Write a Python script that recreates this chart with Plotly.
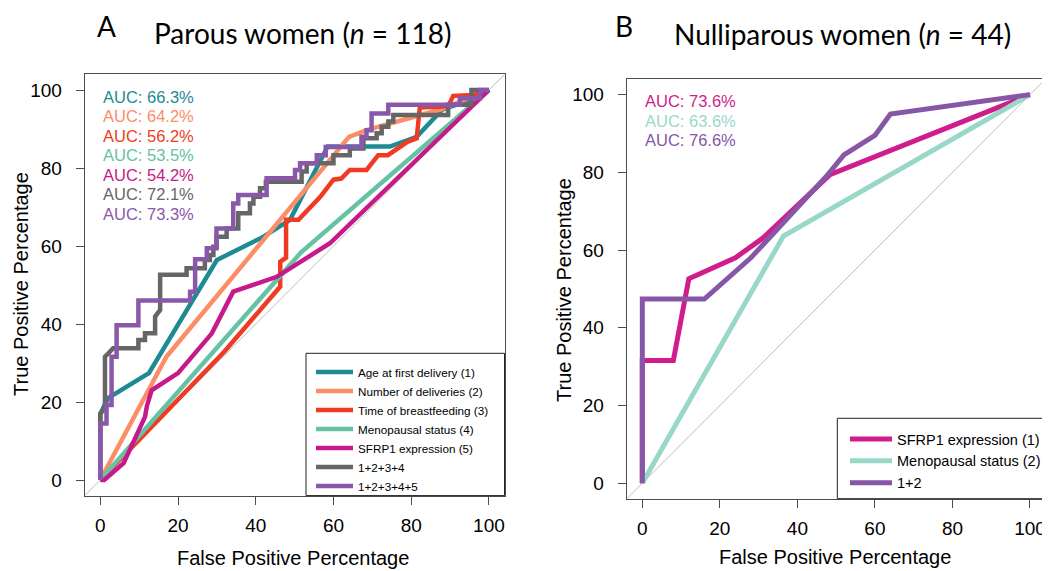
import plotly.graph_objects as go

# page body has an 8px margin: the figure is drawn 8px in from the window's top-left corner
OFF = 8
W, H = 1050 - OFF, 571 - OFF

# ---------------- Panel A: Parous women (FPR %, TPR %) ----------------
a_names = ["Age at first delivery (1)", "Number of deliveries (2)", "Time of breastfeeding (3)",
           "Menopausal status (4)", "SFRP1 expression (5)", "1+2+3+4", "1+2+3+4+5"]
a_colors = ["#1d8a94", "#fb8d67", "#ef3b23", "#66c2a4", "#c7198a", "#666666", "#8a58aa"]
a_auc = ["66.3%", "64.2%", "56.2%", "53.5%", "54.2%", "72.1%", "73.3%"]

a_age = [(0, 0), (0, 17), (2, 21), (12.5, 27.4), (30, 56.4), (42, 62.4), (48.8, 66.7), (58.5, 85.5),
         (74.5, 85.5), (81.4, 88), (88, 95), (95, 97.4), (100, 100)]
a_deliveries = [(0, 0), (17, 31.6), (64, 88), (68.5, 89.7), (87.5, 95), (97.5, 99), (100, 100)]
a_breastfeeding = [(0, 0), (32, 33), (46.3, 49.6), (46.3, 56), (47.8, 57), (47.8, 66.7), (51, 66.7),
                   (56.6, 72.6), (60, 77), (62, 77.3), (64.2, 79.5), (68.5, 79.5), (71.5, 83.3),
                   (74, 83.3), (79, 86.7), (81.4, 87.6), (82.2, 95.5), (89.5, 95.8), (90.8, 98.5),
                   (96, 98.7), (100, 100)]
a_menopause = [(0, 0), (51.6, 58.3), (100, 100)]
a_sfrp1 = [(0, 0), (1, 0), (6, 4.3), (11.5, 16.2), (12, 19), (13.2, 23), (20, 27.4), (28.7, 37.6),
           (34.2, 48.3), (45.4, 52.1), (59.1, 60.7), (100, 100)]
a_combo4 = [(0, 0), (0, 17), (1.2, 18.4), (1.2, 31.6), (2.1, 32.5), (3.3, 33.8), (9.8, 33.8), (9.8, 35.9),
            (11.5, 35.9), (11.5, 37.6), (14.1, 37.6), (14.1, 41.9), (15.4, 43.6), (15.4, 52.6),
            (22.2, 52.6), (22.2, 54.3), (26.9, 54.3), (26.9, 56.4), (28.2, 56.4), (28.2, 57.7),
            (29.1, 57.7), (29.1, 59.8), (29.9, 59.8), (29.9, 62.4), (32.5, 62.4), (32.5, 64.5),
            (35.5, 64.5), (35.5, 68.4), (38.5, 68.4), (38.5, 70.9), (39.4, 70.9), (39.4, 72.6),
            (41.1, 72.6), (41.1, 74.8), (42.6, 74.8), (42.6, 76.5), (51.8, 76.5), (51.8, 79.1),
            (53.1, 79.1), (53.1, 81.2), (60, 81.2), (60, 83.3), (64.2, 83.3), (64.2, 85),
            (67.7, 85), (67.7, 87.6), (71.1, 87.6), (71.1, 88.9), (72.4, 88.9), (72.4, 90.6),
            (74.1, 90.6), (74.1, 91.9), (75.4, 91.9), (75.4, 93.6), (89.5, 93.6), (89.5, 96.2),
            (95.5, 96.2), (95.5, 100), (100, 100)]
a_combo5 = [(0, 0), (0, 14.5), (1.6, 14.5), (1.6, 19.2), (2.9, 19.2), (2.9, 31.6), (4.2, 31.6),
            (4.2, 39.7), (9.8, 39.7), (9.8, 46), (23.1, 46), (23.1, 48.3), (24.4, 48.3), (24.4, 56.6),
            (27.4, 56.6), (27.4, 59.4), (29.9, 59.4), (29.9, 64.5), (34.2, 64.5), (34.2, 70.9),
            (35.5, 70.9), (35.5, 73.1), (42.8, 73.1), (42.8, 77.4), (50.1, 77.4), (50.1, 79.5),
            (51.4, 79.5), (51.4, 81.2), (55.7, 81.2), (55.7, 83.3), (58, 83.3), (58, 85.4),
            (67.2, 85.4), (67.2, 88), (68.5, 88), (68.5, 89.7), (69.8, 89.7), (69.8, 94),
            (74.1, 94), (74.1, 96.2), (92.5, 96.2), (92.5, 97.9), (97.7, 97.9), (97.7, 100), (100, 100)]
a_curves = [a_age, a_deliveries, a_breastfeeding, a_menopause, a_sfrp1, a_combo4, a_combo5]

# ---------------- Panel B: Nulliparous women ----------------
b_names = ["SFRP1 expression (1)", "Menopausal status (2)", "1+2"]
b_colors = ["#cf1d8b", "#99d8c9", "#8856a7"]
b_auc = ["73.6%", "63.6%", "76.6%"]
b_sfrp1 = [(0, 0), (0, 31.6), (8, 31.6), (12, 52.6), (24, 58), (31, 63), (48.4, 79.4), (100, 100)]
b_menopause = [(0, 0), (36.4, 63.6), (100, 100)]
b_combo = [(0, 0), (0, 47.4), (16, 47.4), (28, 58), (47.5, 79), (52, 84.5), (60, 89.5), (64, 95), (100, 100)]
b_curves = [b_sfrp1, b_menopause, b_combo]

ticks = [0, 20, 40, 60, 80, 100]

FONT = "Liberation Sans"
TFONT = "Lato"
AXC = "#4d4d4d"


def fx(px):
    return (px - OFF) / W


def fy(py):
    return 1 - (py - OFF) / H


fig = go.Figure()

# chance diagonals
for xa, ya in (("x", "y"), ("x2", "y2")):
    fig.add_trace(go.Scatter(x=[-4, 104], y=[-4, 104], mode="lines", xaxis=xa, yaxis=ya,
                             line=dict(color="#bdbdbd", width=1), showlegend=False, hoverinfo="skip"))

for name, col, pts in zip(a_names, a_colors, a_curves):
    fig.add_trace(go.Scatter(x=[p[0] for p in pts], y=[p[1] for p in pts], mode="lines", name=name,
                             xaxis="x", yaxis="y", legend="legend",
                             line=dict(color=col, width=4.5)))

for name, col, pts in zip(b_names, b_colors, b_curves):
    fig.add_trace(go.Scatter(x=[p[0] for p in pts], y=[p[1] for p in pts], mode="lines", name=name,
                             xaxis="x2", yaxis="y2", legend="legend2",
                             line=dict(color=col, width=5)))

axis_style = dict(range=[-4, 104], tickvals=ticks, ticks="outside", ticklen=8, tickwidth=1,
                  tickcolor=AXC, showline=True, mirror=True, linecolor=AXC, linewidth=1.2,
                  showgrid=False, zeroline=False,
                  tickfont=dict(family=FONT, size=19, color="black"))
x_style = dict(axis_style, ticklabelstandoff=4)
y_style = dict(axis_style, ticklabelstandoff=10)

annotations = []
# AUC labels
for i, (txt, col) in enumerate(zip(a_auc, a_colors)):
    annotations.append(dict(x=0.3, y=98.3 - 5 * i, xref="x", yref="y", text="AUC: " + txt,
                            showarrow=False, xanchor="left", yanchor="middle",
                            font=dict(family=FONT, size=16.5, color=col)))
for i, (txt, col) in enumerate(zip(b_auc, b_colors)):
    annotations.append(dict(x=0.3, y=98.3 - 5 * i, xref="x2", yref="y2", text="AUC: " + txt,
                            showarrow=False, xanchor="left", yanchor="middle",
                            font=dict(family=FONT, size=16.5, color=col)))

# axis titles
for cx, cy in ((293, 558), (835, 557)):
    annotations.append(dict(x=fx(cx), y=fy(cy), xref="paper", yref="paper", text="False Positive Percentage",
                            showarrow=False, xanchor="center", yanchor="middle",
                            font=dict(family=FONT, size=20, color="black")))
for cx, cy in ((21, 284), (564, 290)):
    annotations.append(dict(x=fx(cx), y=fy(cy), xref="paper", yref="paper", text="True Positive Percentage",
                            showarrow=False, xanchor="center", yanchor="middle", textangle=-90,
                            font=dict(family=FONT, size=20, color="black")))

# panel titles
annotations.append(dict(x=fx(106), y=fy(26), xref="paper", yref="paper", text="A", showarrow=False,
                        xanchor="center", yanchor="middle", font=dict(family=TFONT, size=28, color="black")))
annotations.append(dict(x=fx(623.5), y=fy(26), xref="paper", yref="paper", text="B", showarrow=False,
                        xanchor="center", yanchor="middle", font=dict(family=TFONT, size=28, color="black")))
annotations.append(dict(x=fx(152), y=fy(33), xref="paper", yref="paper",
                        text="Parous women (<i>n</i> = 118)", showarrow=False,
                        xanchor="left", yanchor="middle", font=dict(family=TFONT, size=28, color="black")))
annotations.append(dict(x=fx(672), y=fy(34), xref="paper", yref="paper",
                        text="Nulliparous women (<i>n</i> = 44)", showarrow=False,
                        xanchor="left", yanchor="middle", font=dict(family=TFONT, size=28, color="black")))

shapes = [
    dict(type="rect", xref="paper", yref="paper", x0=fx(306), x1=fx(504.5), y0=fy(495.6), y1=fy(353.3),
         line=dict(color="#222222", width=1)),
    dict(type="rect", xref="paper", yref="paper", x0=fx(837.3), x1=fx(1045.5), y0=fy(498.7), y1=fy(418.3),
         line=dict(color="#222222", width=1)),
]

fig.update_layout(
    width=W, height=H, margin=dict(l=0, r=0, t=0, b=0),
    paper_bgcolor="white", plot_bgcolor="white",
    xaxis=dict(domain=[fx(84.75), fx(504.5)], anchor="y", **x_style),
    yaxis=dict(domain=[fy(495.6), fy(74.4)], anchor="x", **y_style),
    xaxis2=dict(domain=[fx(626.8), fx(1045.5)], anchor="y2", **x_style),
    yaxis2=dict(domain=[fy(498.7), fy(79.1)], anchor="x2", **y_style),
    legend=dict(x=fx(311), xanchor="left", y=fy(357.5), yanchor="top", bgcolor="rgba(0,0,0,0)",
                borderwidth=0, itemwidth=37, font=dict(family=FONT, size=11.7, color="black")),
    legend2=dict(x=fx(845), xanchor="left", y=fy(423), yanchor="top", bgcolor="rgba(0,0,0,0)",
                 borderwidth=0, itemwidth=42, font=dict(family=FONT, size=14.5, color="black")),
    annotations=annotations, shapes=shapes, showlegend=True,
)

fig.write_html("out.html")
